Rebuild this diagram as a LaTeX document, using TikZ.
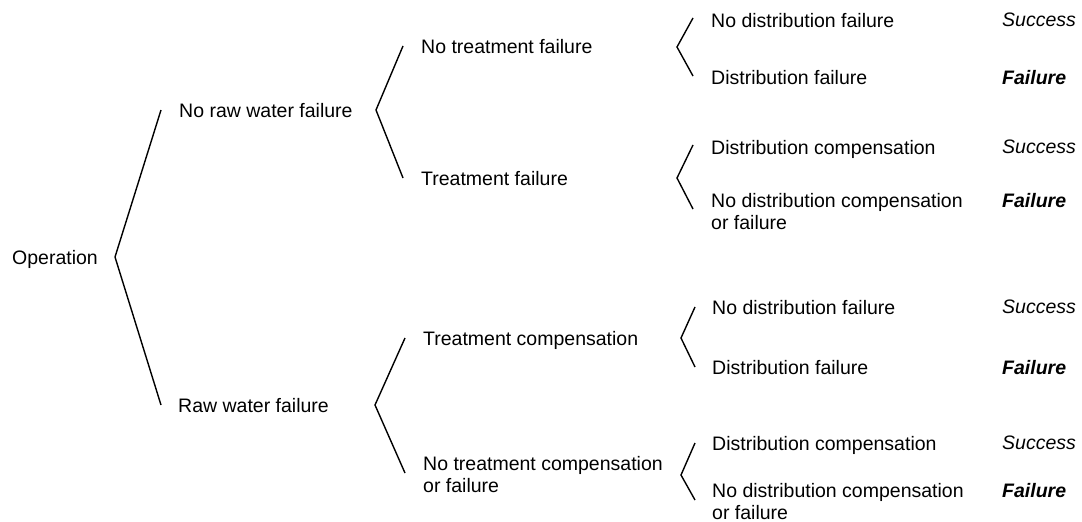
\documentclass[tikz,border=0pt]{standalone}
\usepackage{fontspec}
\setmainfont{Liberation Sans}
\begin{document}
\begin{tikzpicture}[x=1pt,y=-1pt,
  lbl/.style={anchor=north west, inner sep=0pt, align=left,
              font=\fontsize{19.5}{22.5}\selectfont},
  okay/.style={lbl, font=\fontsize{19.5}{22.5}\selectfont\itshape},
  bad/.style={lbl, font=\fontsize{19.5}{22.5}\selectfont\bfseries\itshape},
  branch/.style={draw=black, line width=1.4pt, line join=miter}]
\useasboundingbox (0,0) rectangle (1082,522);

% event labels (top edge = centre line - 7)
\node[lbl] (op)  at (12,250)  {Operation};
\node[lbl] (nrw) at (179,103) {No raw water failure};
\node[lbl] (rw)  at (178,398) {Raw water failure};
\node[lbl] (ntf) at (421,39)  {No treatment failure};
\node[lbl] (tf)  at (421,171) {Treatment failure};
\node[lbl] (tc)  at (423,331) {Treatment compensation};
\node[lbl] (ntc) at (423,456) {No treatment compensation\\or failure};
\node[lbl] (a1)  at (711,13)  {No distribution failure};
\node[lbl] (a2)  at (711,70)  {Distribution failure};
\node[lbl] (b1)  at (711,140) {Distribution compensation};
\node[lbl] (b2)  at (711,193) {No distribution compensation\\or failure};
\node[lbl] (c1)  at (712,300) {No distribution failure};
\node[lbl] (c2)  at (712,360) {Distribution failure};
\node[lbl] (d1)  at (712,436) {Distribution compensation};
\node[lbl] (d2)  at (712,483) {No distribution compensation\\or failure};

% outcomes
\node[okay] (oa1) at (1002,13)  {Success};
\node[bad]  (oa2) at (1002,70)  {Failure};
\node[okay] (ob1) at (1002,140) {Success};
\node[bad]  (ob2) at (1002,193) {Failure};
\node[okay] (oc1) at (1002,300) {Success};
\node[bad]  (oc2) at (1002,360) {Failure};
\node[okay] (od1) at (1002,436) {Success};
\node[bad]  (od2) at (1002,483) {Failure};

% branch points and branch ends
\coordinate (v0) at (115,257);
\coordinate (e0a) at (161,110); \coordinate (e0b) at (161,405);
\coordinate (v1) at (376,110);
\coordinate (e1a) at (403,46);  \coordinate (e1b) at (403,178);
\coordinate (v2) at (375,405);
\coordinate (e2a) at (405,338); \coordinate (e2b) at (405,473);
\coordinate (v3) at (677,47);
\coordinate (e3a) at (693,18);  \coordinate (e3b) at (693,76);
\coordinate (v4) at (677,178);
\coordinate (e4a) at (693,145); \coordinate (e4b) at (693,209);
\coordinate (v5) at (681,338);
\coordinate (e5a) at (695,307); \coordinate (e5b) at (695,367);
\coordinate (v6) at (681,475);
\coordinate (e6a) at (695,443); \coordinate (e6b) at (695,500);

\draw[branch] (e0a) -- (v0) -- (e0b);
\draw[branch] (e1a) -- (v1) -- (e1b);
\draw[branch] (e2a) -- (v2) -- (e2b);
\draw[branch] (e3a) -- (v3) -- (e3b);
\draw[branch] (e4a) -- (v4) -- (e4b);
\draw[branch] (e5a) -- (v5) -- (e5b);
\draw[branch] (e6a) -- (v6) -- (e6b);
\end{tikzpicture}
\end{document}
